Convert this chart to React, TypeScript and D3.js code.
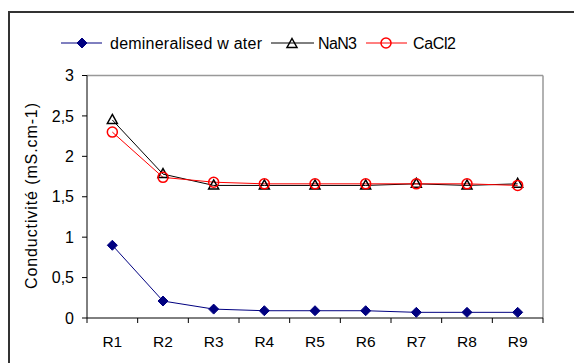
import React from 'react';
import * as d3 from 'd3';

const categories = ['R1', 'R2', 'R3', 'R4', 'R5', 'R6', 'R7', 'R8', 'R9'];
const waterValues = [0.9, 0.21, 0.11, 0.09, 0.09, 0.09, 0.07, 0.07, 0.07];
const nan3Values = [2.45, 1.78, 1.64, 1.64, 1.64, 1.64, 1.66, 1.64, 1.66];
const cacl2Values = [2.3, 1.74, 1.68, 1.66, 1.66, 1.66, 1.66, 1.66, 1.64];
const yTicks = [0, 0.5, 1, 1.5, 2, 2.5, 3];
const yLabel = 'Conductivité (mS.cm-1)';
const seriesNames = ['demineralised w ater', 'NaN3', 'CaCl2'];

const W = 574;
const H = 363;
const plot = { left: 87, right: 543, top: 75.5, bottom: 318 };
const font = 'Liberation Sans, Arial, sans-serif';

const x = d3.scaleBand<string>().domain(categories).range([plot.left, plot.right]);
const y = d3.scaleLinear().domain([0, 3]).range([plot.bottom, plot.top]);

const fmt = (v: number) => String(v).replace('.', ',');

function Diamond({ cx, cy, r = 5 }: { cx: number; cy: number; r?: number }) {
  return (
    <path
      d={`M${cx},${cy - r}L${cx + r},${cy}L${cx},${cy + r}L${cx - r},${cy}Z`}
      fill="#000080"
      stroke="#000080"
    />
  );
}

function Triangle({ cx, cy }: { cx: number; cy: number }) {
  return (
    <path
      d={`M${cx},${cy - 5.5}L${cx + 5},${cy + 3.5}L${cx - 5},${cy + 3.5}Z`}
      fill="none"
      stroke="#000"
      strokeWidth={1.5}
    />
  );
}

function Circle({ cx, cy }: { cx: number; cy: number }) {
  return <circle cx={cx} cy={cy} r={5} fill="none" stroke="#ff0000" strokeWidth={1.5} />;
}

export default function App() {
  const cx = (c: string) => (x(c) as number) + x.bandwidth() / 2;
  const line = (vals: number[]) =>
    d3.line<number>().x((_, i) => cx(categories[i])).y(d => y(d))(vals) || '';

  const ly = 43;

  return (
    <svg
      width={W}
      height={H}
      style={{ position: 'absolute', left: 0, top: 0, background: '#fff' }}
      fontFamily={font}
    >
      <rect x={0} y={0} width={W} height={H} fill="#fff" />
      {/* outer frame, only top + left show */}
      <line x1={8} y1={12} x2={W} y2={12} stroke="#333" strokeWidth={2} />
      <line x1={9} y1={11} x2={9} y2={H} stroke="#333" strokeWidth={2} />

      {/* plot area border */}
      <line x1={plot.left} y1={plot.top} x2={plot.right} y2={plot.top} stroke="#999" strokeWidth={1.5} />
      <line x1={plot.right} y1={plot.top} x2={plot.right} y2={plot.bottom} stroke="#999" strokeWidth={1.5} />

      {/* y axis */}
      <line x1={plot.left} y1={plot.top} x2={plot.left} y2={plot.bottom} stroke="#000" />
      {yTicks.map(t => (
        <g key={t}>
          <line x1={plot.left - 5} x2={plot.left} y1={y(t)} y2={y(t)} stroke="#000" />
          <text x={74} y={y(t)} dy="0.35em" textAnchor="end" fontSize={16} fill="#000">
            {fmt(t)}
          </text>
        </g>
      ))}
      <text
        transform={`translate(31,196) rotate(-90)`}
        textAnchor="middle"
        dy="0.35em"
        fontSize={16}
        textLength={186}
        lengthAdjust="spacing"
        fill="#000"
      >
        {yLabel}
      </text>

      {/* x axis */}
      <line x1={plot.left} y1={plot.bottom} x2={plot.right} y2={plot.bottom} stroke="#000" />
      {categories.map((c, i) => (
        <g key={c}>
          <line
            x1={x(c) as number}
            x2={x(c) as number}
            y1={plot.bottom}
            y2={plot.bottom + 5}
            stroke="#000"
          />
          {i === categories.length - 1 && (
            <line x1={plot.right} x2={plot.right} y1={plot.bottom} y2={plot.bottom + 5} stroke="#000" />
          )}
          <text x={cx(c)} y={347} textAnchor="middle" fontSize={15.5} fill="#000">
            {c}
          </text>
        </g>
      ))}

      {/* series */}
      <path d={line(waterValues)} fill="none" stroke="#000080" strokeWidth={1} />
      <path d={line(nan3Values)} fill="none" stroke="#000" strokeWidth={1} />
      <path d={line(cacl2Values)} fill="none" stroke="#ff0000" strokeWidth={1} />
      {waterValues.map((v, i) => (
        <Diamond key={'w' + i} cx={cx(categories[i])} cy={y(v)} />
      ))}
      {nan3Values.map((v, i) => (
        <Triangle key={'n' + i} cx={cx(categories[i])} cy={y(v)} />
      ))}
      {cacl2Values.map((v, i) => (
        <Circle key={'c' + i} cx={cx(categories[i])} cy={y(v)} />
      ))}

      {/* legend */}
      <g fontSize={16} fill="#000">
        <line x1={61} x2={102} y1={ly} y2={ly} stroke="#000080" />
        <Diamond cx={82} cy={ly} />
        <text x={110} y={ly} dy="0.35em" textLength={152} lengthAdjust="spacing">
          {seriesNames[0]}
        </text>
        <line x1={271} x2={314} y1={ly} y2={ly} stroke="#000" />
        <Triangle cx={292} cy={ly + 1} />
        <text x={318} y={ly} dy="0.35em" textLength={39} lengthAdjust="spacing">
          {seriesNames[1]}
        </text>
        <line x1={366} x2={407} y1={ly} y2={ly} stroke="#ff0000" />
        <Circle cx={386} cy={ly} />
        <text x={413} y={ly} dy="0.35em" textLength={43} lengthAdjust="spacing">
          {seriesNames[2]}
        </text>
      </g>
    </svg>
  );
}
